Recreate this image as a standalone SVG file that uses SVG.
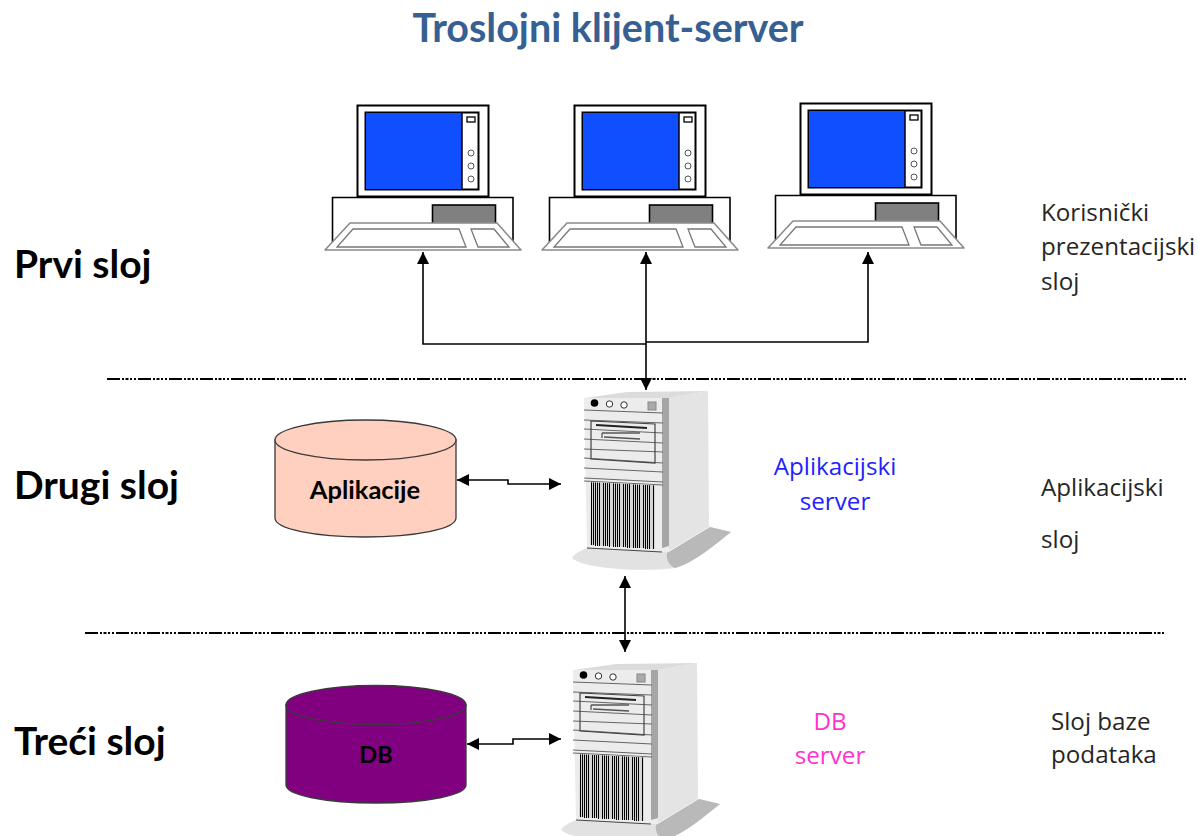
<svg xmlns="http://www.w3.org/2000/svg" xmlns:xlink="http://www.w3.org/1999/xlink" width="1198" height="836" viewBox="0 0 1198 836">
<style>
.head{font-family:"Lato","Liberation Sans",sans-serif;font-weight:700;fill:#000;font-size:39px}
.title{font-family:"Lato","Liberation Sans",sans-serif;font-weight:700;fill:#376092;font-size:39.500px;text-anchor:middle}
.body{font-family:"Open Sans","Liberation Sans",sans-serif;font-size:24.200px;fill:#262626}
.mid{text-anchor:middle}
.conn{fill:none;stroke:#000;stroke-width:1.600}
.sep{fill:none;stroke:#000;stroke-width:2;stroke-dasharray:13 2 2 1.500 3 1.500 2 2 2 2}
.cyl{stroke:#3a3a3a;stroke-width:1.300}
.lbl{font-family:"Lato","Liberation Sans",sans-serif;font-weight:700;font-size:25.500px;fill:#000;text-anchor:middle}
</style>
<defs>
<marker id="arr" markerUnits="userSpaceOnUse" markerWidth="12" markerHeight="12" refX="10" refY="5" orient="auto-start-reverse" viewBox="0 0 10 10"><path d="M0,0L10,5L0,10Z" fill="#000"/></marker>
<g id="vents" stroke="#000" stroke-width="1"><path d="M591.500,482.300V545M593.500,482.400V545M595.500,482.500V546M597.500,482.600V546M599.500,482.700V546M603.500,482.900V546M605.500,483V546M607.500,483.100V546M609.500,483.200V547M613.500,483.400V547M615.500,483.500V547M617.500,483.600V547M619.500,483.700V547M623.500,483.900V547M625.500,484V547M627.500,484.100V548M629.500,484.200V548M633.500,484.400V548M635.500,484.500V548M637.500,484.600V548M639.500,484.700V548M643.500,484.900V548M645.500,485V549M647.500,485.100V549M649.500,485.200V549M653.500,485.400V549"/></g>
<g id="pc">
<rect x="357.500" y="105.500" width="131" height="91" fill="#fff" stroke="#000" stroke-width="2"/>
<rect x="365.500" y="112.500" width="113" height="77" fill="#fff" stroke="#000" stroke-width="2"/>
<rect x="366" y="113" width="96" height="76" fill="#0f4fff"/>
<path d="M462,112V190" stroke="#000" stroke-width="1.500"/>
<rect x="467" y="117" width="8" height="5" fill="#fff" stroke="#000" stroke-width="1.300"/>
<g fill="#fff" stroke="#555" stroke-width="1"><circle cx="471" cy="153" r="3"/><circle cx="471" cy="166" r="3"/><circle cx="471" cy="179" r="3"/></g>
<path d="M332.500,242V197.500H513V242" fill="#fff" stroke="#000" stroke-width="1.600"/>
<rect x="432.500" y="205" width="63" height="19" fill="#808080" stroke="#000" stroke-width="1.600"/>
<path d="M350,223H497L521,250H325Z" fill="#fff" stroke="#8a8a8a" stroke-width="1.600" stroke-linejoin="round"/>
<path d="M353,229H459L466,247H337Z" fill="#fff" stroke="#777" stroke-width="1.300"/>
<path d="M471,229H494L509,247H478Z" fill="#fff" stroke="#777" stroke-width="1.300"/>
</g>
<g id="srv">
<path d="M572,558C575,553 582,550 587,548L669,552L710,527L731,532C715,545 690,565 675,568C650,572 585,570 572,558Z" fill="#e2e2e2"/>
<path d="M667,553L710,527L731,532C715,545 692,564 675,568C668,565 666,558 667,553Z" fill="#b9b9b9"/>
<path d="M669,398L708,391L709,527L669,551Z" fill="#e4e4e4"/>
<path d="M585,398L627,392L708,391L669,398Z" fill="#dcdcdc"/>
<path d="M584,398L669,398V552L587,548Z" fill="#ececec"/>
<path d="M662,398H669V546L662,548Z" fill="#a6a6a6"/>
<circle cx="594.500" cy="403" r="3.800" fill="#000"/>
<circle cx="609.500" cy="404" r="3.200" fill="#fff" stroke="#333"/>
<circle cx="624" cy="405" r="3.200" fill="#fff" stroke="#333"/>
<rect x="648" y="402" width="8" height="8" fill="#aaa" stroke="#888"/>
<path d="M584,410L663,413M584,420L663,423M584,429L663,433M584,439L663,443M584,449L663,452M584,458L663,463M584,468L663,472M584,478L663,482M584,481L663,485" fill="none" stroke="#666" stroke-width="1"/>
<path d="M591,421L655,424V463L591,459Z" fill="none" stroke="#444" stroke-width="1.200"/>
<path d="M596,425L647,428" stroke="#222" stroke-width="1.800"/>
<path d="M602,433H640M602,433V438M604,437L640,439" fill="none" stroke="#555" stroke-width="1.300"/>
<path d="M591,482L655,485V549L590,545Z" fill="#d4d4d4"/>
<use href="#vents"/>
<path d="M587,548L662,552" stroke="#444" stroke-width="1"/>
</g>
</defs>
<text class="title" x="608" y="42">Troslojni klijent-server</text>
<text class="head" x="14" y="278">Prvi sloj</text>
<text class="head" x="14" y="499">Drugi sloj</text>
<text class="head" x="14" y="755">Treći sloj</text>
<g id="connectors">
<path class="sep" d="M107,379H1187"/>
<path class="sep" d="M85,633H1165"/>
<path class="conn" marker-end="url(#arr)" d="M646,344H423V252"/>
<path class="conn" marker-end="url(#arr)" d="M646,342H868V252"/>
<path class="conn" marker-start="url(#arr)" marker-end="url(#arr)" d="M646,252V390"/>
<path class="conn" marker-start="url(#arr)" marker-end="url(#arr)" d="M625,576V652"/>
<path class="conn" marker-start="url(#arr)" marker-end="url(#arr)" d="M457,480H508V484H561"/>
<path class="conn" marker-start="url(#arr)" marker-end="url(#arr)" d="M467,744H513V739H561"/>
</g>
<g id="client1"><use href="#pc"/></g>
<g id="client2"><use href="#pc" x="217" y="0"/></g>
<g id="client3"><use href="#pc" x="443" y="-2"/></g>
<g id="app-server"><use href="#srv"/></g>
<g id="db-server"><use href="#srv" x="-11" y="272"/></g>
<g id="app-store">
<path class="cyl" d="M275,440V518C275,529 315,537 365,537S456,529 456,518V440Z" fill="#ffcfc0"/>
<ellipse class="cyl" cx="365.500" cy="440" rx="90.500" ry="20" fill="#ffcfc0"/>
<text class="lbl" x="365" y="499">Aplikacije</text>
</g>
<g id="db-store">
<path class="cyl" d="M286,705V785C286,795 325,803 376,803S466,795 466,785V705Z" fill="#800080"/>
<ellipse class="cyl" cx="376" cy="705" rx="90" ry="19.500" fill="#800080"/>
<text class="lbl" x="376" y="763" style="font-size:23.500px">DB</text>
</g>
<g id="labels">
<text class="body" x="1041" y="221">Korisnički</text>
<text class="body" x="1041" y="255">prezentacijski</text>
<text class="body" x="1041" y="290">sloj</text>
<text class="body" x="1041" y="496">Aplikacijski</text>
<text class="body" x="1041" y="548">sloj</text>
<text class="body" x="1051" y="730">Sloj baze</text>
<text class="body" x="1051" y="763">podataka</text>
<text class="body mid" x="835" y="475" style="fill:#1f1fff">Aplikacijski</text>
<text class="body mid" x="835" y="510" style="fill:#1f1fff">server</text>
<text class="body mid" x="830" y="730" style="fill:#ff33cc">DB</text>
<text class="body mid" x="830" y="764" style="fill:#ff33cc">server</text>
</g>
</svg>
